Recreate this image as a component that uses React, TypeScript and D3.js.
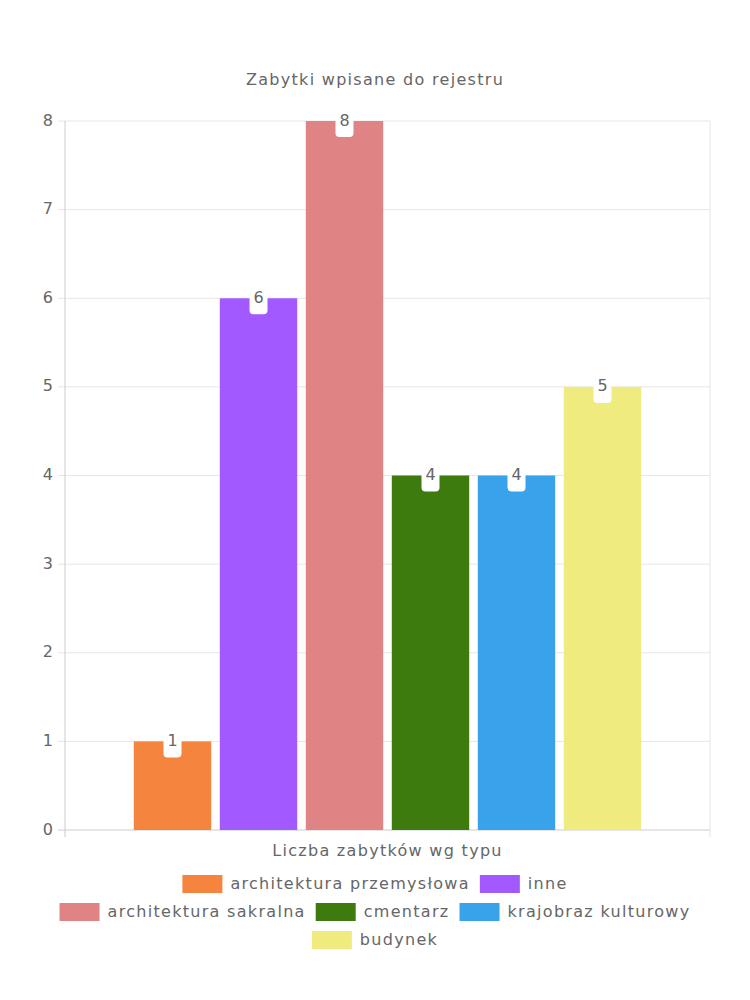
import React from "react";
import * as d3 from "d3";

const title = "Zabytki wpisane do rejestru";
const category = "Liczba zabytków wg typu";
const seriesNames = [
  "architektura przemysłowa",
  "inne",
  "architektura sakralna",
  "cmentarz",
  "krajobraz kulturowy",
  "budynek",
];
const seriesValues = [1, 6, 8, 4, 4, 5];
const seriesColors = ["#F5843F", "#A259FF", "#E08385", "#3E7B0E", "#38A3EB", "#F0EB7E"];
const yTicks = [0, 1, 2, 3, 4, 5, 6, 7, 8];
// number of legend items per row (layout)
const legendRowCounts = [2, 3, 1];

const W = 750;
const H = 1000;
const FONT = "'DejaVu Sans', sans-serif";
const TEXT = "#666";
const LS = 1.3;

function measure(text: string, size: number) {
  const c = document.createElement("canvas").getContext("2d")!;
  c.font = `${size}px 'DejaVu Sans'`;
  return c.measureText(text).width + LS * text.length;
}

export default function App() {
  const left = 65, right = 710, top = 121, bottom = 830;
  const y = d3.scaleLinear().domain([0, 8]).range([bottom, top]);
  const xOuter = d3.scaleBand<string>().domain([category]).range([left, right]).paddingInner(0).paddingOuter(0);
  const bw = xOuter.bandwidth();
  const catStart = xOuter(category)! + bw * 0.1;
  const xInner = d3.scaleBand<string>().domain(seriesNames).range([catStart, catStart + bw * 0.8]);
  const slot = xInner.bandwidth();
  const barW = slot * 0.9;

  // legend layout
  const legendFont = 16;
  const boxW = 40, boxH = 18, pad = 10;
  const items = seriesNames.map((n, i) => ({ n, i, w: boxW + legendFont / 2 + measure(n, legendFont) }));
  const rows: { n: string; i: number; w: number }[][] = [];
  let k = 0;
  legendRowCounts.forEach((c) => {
    rows.push(items.slice(k, k + c));
    k += c;
  });
  const legendTop = 884;
  const rowH = 28;

  return (
    <svg width={W} height={H} style={{ position: "absolute", left: 0, top: 0, background: "#fff" }} fontFamily={FONT} letterSpacing={LS}>
      <text x={W / 2} y={80} textAnchor="middle" dominantBaseline="middle" fontSize={16} fill={TEXT}>
        {title}
      </text>
      {/* horizontal grid */}
      {yTicks.map((t) => (
        <g key={t}>
          <line x1={left - 7} x2={right} y1={y(t)} y2={y(t)} stroke={t === 0 ? "#ccc" : "#e6e6e6"} strokeWidth={1} />
          <text x={53} y={y(t)} textAnchor="end" dominantBaseline="middle" fontSize={16} fill={TEXT} letterSpacing={0}>
            {t}
          </text>
        </g>
      ))}
      {/* vertical grid */}
      <line x1={left} x2={left} y1={top} y2={bottom + 7} stroke="#ccc" />
      <line x1={right} x2={right} y1={top} y2={bottom + 7} stroke="#e6e6e6" />
      {/* bars */}
      {seriesNames.map((n, i) => {
        const x = xInner(n)! + (slot - barW) / 2;
        return (
          <rect key={n} x={x} y={y(seriesValues[i])} width={barW} height={bottom - y(seriesValues[i])} fill={seriesColors[i]} />
        );
      })}
      {/* data labels */}
      {seriesNames.map((n, i) => {
        const cx = xInner(n)! + slot / 2;
        const cy = y(seriesValues[i]);
        return (
          <g key={"l" + n}>
            <rect x={cx - 9} y={cy - 16} width={18} height={32} rx={4} fill="#fff" />
            <text x={cx} y={cy} textAnchor="middle" dominantBaseline="middle" fontSize={16} fill={TEXT} letterSpacing={0}>
              {seriesValues[i]}
            </text>
          </g>
        );
      })}
      <text x={(left + right) / 2} y={851} textAnchor="middle" dominantBaseline="middle" fontSize={16} fill={TEXT}>
        {category}
      </text>
      {/* legend */}
      {rows.map((row, ri) => {
        const total = row.reduce((s, it) => s + it.w, 0) + pad * (row.length - 1);
        let x = (W - total) / 2;
        const cy = legendTop + ri * rowH;
        return row.map((it) => {
          const x0 = x;
          x += it.w + pad;
          return (
            <g key={it.n}>
              <rect x={x0} y={cy - boxH / 2} width={boxW} height={boxH} fill={seriesColors[it.i]} />
              <text x={x0 + boxW + legendFont / 2} y={cy} dominantBaseline="middle" fontSize={legendFont} fill={TEXT}>
                {it.n}
              </text>
            </g>
          );
        });
      })}
    </svg>
  );
}
